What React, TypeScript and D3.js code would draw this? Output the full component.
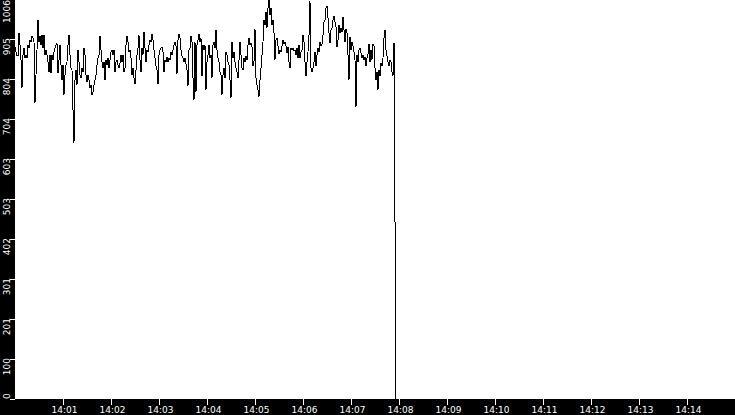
import React, { useEffect, useRef } from 'react';
import * as d3 from 'd3';

// axis range
const yMax = 1006;
const yTickLabels = ['0', '100', '201', '301', '402', '503', '603', '704', '804', '905', '1006'];
const xTickLabels = ['14:01', '14:02', '14:03', '14:04', '14:05', '14:06', '14:07',
    '14:08', '14:09', '14:10', '14:11', '14:12', '14:13', '14:14'];
const startLabel = '14:00';
const endLabel = '14:15';
const sampleMs = 1250;

// one reading per sample, from 14:00:00 on
const samples = [
    885, 873, 863, 863, 921, 890, 853, 782, 865, 883, 858, 865, 858, 890, 883, 903, 898, 913, 908, 898,
    744, 815, 878, 953, 898, 913, 890, 915, 883, 915, 865, 878, 865, 848, 822, 865, 820, 865, 853, 873,
    883, 890, 895, 820, 853, 890, 840, 802, 840, 765, 815, 840, 848, 890, 915, 865, 832, 827, 727, 644,
    802, 827, 790, 878, 848, 815, 807, 832, 822, 883, 865, 815, 797, 815, 802, 782, 790, 765, 772, 790,
    802, 815, 840, 858, 865, 913, 878, 848, 832, 848, 802, 853, 840, 858, 832, 853,
    873, 878, 865, 878, 822, 848, 853, 840, 832, 845, 865, 848, 865, 822, 832, 890, 913, 898, 873, 878,
    858, 815, 832, 807, 792, 827, 865, 883, 915, 853, 822, 883, 865, 923, 883, 848, 878, 873, 890, 903,
    898, 918, 903, 878, 858, 838, 827, 792, 865, 878, 883, 885, 873, 822, 853, 848, 860, 848, 858, 853,
    873, 865, 878, 890, 898, 888, 817, 903, 918, 908, 878, 863, 858, 848, 858, 843, 827, 787, 878, 883,
    913, 898, 807, 752, 898, 772, 890, 903, 918, 898, 908, 812, 890, 878,
    890, 777, 848, 865, 890, 858, 865, 807, 890, 898, 883, 928, 878, 858, 848, 822, 815, 765, 815, 832,
    807, 873, 865, 848, 840, 802, 757, 898, 858, 873, 848, 832, 822, 807, 853, 898, 865, 832, 827, 858,
    848, 863, 853, 890, 908, 890, 895, 885, 838, 848, 931, 807, 790, 777, 760, 802, 832, 865, 898, 953,
    941, 973, 933, 983, 1004, 966, 983, 941, 953, 921, 853, 903, 908, 888, 868, 878, 873, 888, 903, 893,
    898, 888, 870, 885, 848, 832, 883, 878, 883, 875, 878, 865, 883, 858,
    890, 858, 873, 878, 915, 898, 848, 812, 848, 873, 915, 1001, 832, 822, 832, 848, 873, 838, 865, 883,
    873, 898, 888, 893, 915, 948, 953, 983, 988, 958, 921, 895, 928, 933, 953, 963, 948, 936, 885, 903,
    941, 921, 933, 923, 961, 928, 898, 931, 921, 865, 802, 910, 878, 898, 888, 873, 853, 734, 865, 848,
    878, 883, 870, 858, 865, 853, 860, 838, 858, 868, 893, 848, 878, 853, 893, 888, 832, 802, 822, 777,
    827, 812, 845, 838, 858, 908, 928, 878, 863, 848, 838, 853, 848, 822, 812, 895, 445, 0,
];

export default function App() {
    const ref = useRef<SVGSVGElement | null>(null);
    useEffect(() => {
        document.body.style.margin = '0';
        const svg = d3.select(ref.current);
        svg.selectAll('*').remove();
        const width = 735, height = 415, margin = { left: 15, bottom: 16 };
        const font = '"DejaVu Sans", Verdana, sans-serif';
        const parse = d3.timeParse('%H:%M');
        const t0 = parse(startLabel) as Date;
        const x = d3.scaleTime().domain([t0, parse(endLabel) as Date]).range([margin.left, width]);
        const y = d3.scaleLinear().domain([0, yMax]).range([height - margin.bottom, -1]);
        const bottom = height - margin.bottom;

        svg.attr('viewBox', `0 0 ${width} ${height}`);
        svg.append('rect').attr('width', width).attr('height', height).attr('fill', '#fff');

        const line = d3.line<number>()
            .x((d, i) => x(new Date(t0.getTime() + i * sampleMs)))
            .y(d => y(d));
        svg.append('path').datum(samples)
            .attr('d', line)
            .attr('fill', 'none')
            .attr('stroke', '#000')
            .attr('stroke-width', 1)
            .attr('shape-rendering', 'crispEdges');

        // black axis strips
        svg.append('rect').attr('x', 0).attr('y', 0).attr('width', margin.left).attr('height', height).attr('fill', '#000');
        svg.append('rect').attr('x', 0).attr('y', bottom).attr('width', width).attr('height', margin.bottom).attr('fill', '#000');

        // y axis
        const yg = svg.append('g');
        yTickLabels.forEach((lab, i) => {
            const py = Math.round(y(+lab)) + 0.5;
            yg.append('line').attr('x1', 10).attr('x2', margin.left).attr('y1', py).attr('y2', py)
                .attr('stroke', '#fff').attr('shape-rendering', 'crispEdges');
            const ty = i === 0 ? bottom : Math.max(py - 1.5, 0);
            yg.append('text')
                .attr('transform', `translate(10,${ty}) rotate(-90)`)
                .attr('text-anchor', i === 0 ? 'start' : 'end')
                .attr('fill', '#fff')
                .attr('font-family', font)
                .attr('font-size', 9)
                .text(lab);
        });

        // x axis
        const xg = svg.append('g');
        xTickLabels.forEach(lab => {
            const px = Math.round(x(parse(lab) as Date)) + 0.5;
            xg.append('line').attr('x1', px).attr('x2', px).attr('y1', bottom).attr('y2', bottom + 6)
                .attr('stroke', '#fff').attr('shape-rendering', 'crispEdges');
            xg.append('text')
                .attr('x', px + 1).attr('y', 413)
                .attr('text-anchor', 'middle')
                .attr('fill', '#fff')
                .attr('font-family', font)
                .attr('font-size', 9)
                .text(lab);
        });
    }, []);
    return <svg ref={ref} width={735} height={415} style={{ display: 'block' }} />;
}
